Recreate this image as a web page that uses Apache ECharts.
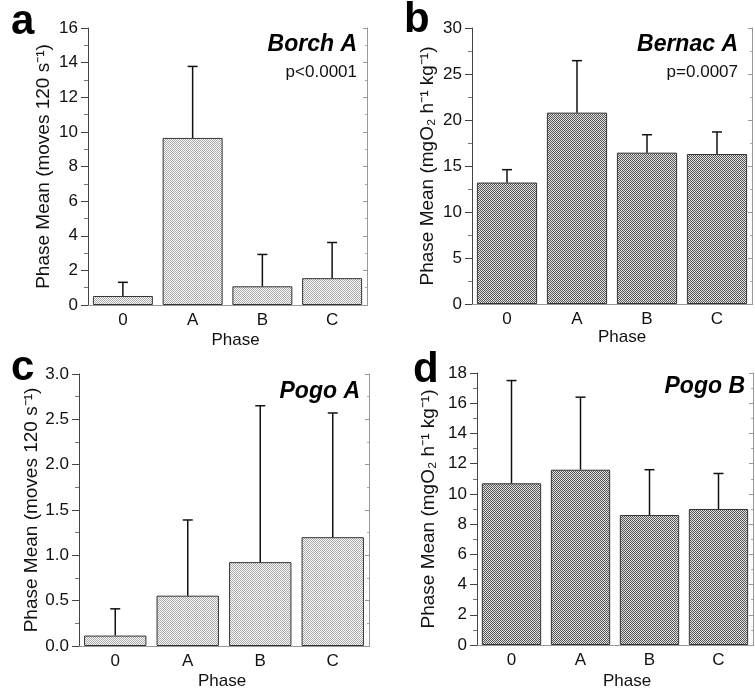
<!DOCTYPE html>
<html>
<head>
<meta charset="utf-8">
<script src="https://cdn.jsdelivr.net/npm/echarts@6/dist/echarts.min.js"></script>
<style>
html, body { margin: 0; padding: 0; background: #fff; }
#echart { width: 755px; height: 691px; }
</style>
</head>
<body>
<div id="echart"></div>
<script>
var dom = document.getElementById("echart");
var myChart = echarts.init(dom);

// categories
let phases = ['0', 'A', 'B', 'C'];

// a: Borch A (moves per 120 s)
let borchMean = [0.52, 9.65, 1.08, 1.55];
let borchErr = [1.31, 13.78, 2.92, 3.61];
// b: Bernac A (mgO2 per h per kg)
let bernacMean = [13.2, 20.8, 16.45, 16.3];
let bernacErr = [14.6, 26.45, 18.4, 18.7];
// c: Pogo A
let pogoAMean = [0.115, 0.555, 0.925, 1.2];
let pogoAErr = [0.41, 1.39, 2.65, 2.57];
// d: Pogo B
let pogoBMean = [10.7, 11.6, 8.6, 9.0];
let pogoBErr = [17.5, 16.4, 11.6, 11.35];

let movesLabel = 'Phase Mean (moves 120 s\u207B\u00B9)';
let o2Label = 'Phase Mean (mgO\u2082 h\u207B\u00B9 kg\u207B\u00B9)';

// stipple fill for the bars
function dots(bg, fg) {
    var c = document.createElement('canvas');
    c.width = 2; c.height = 2;
    var ctx = c.getContext('2d');
    ctx.fillStyle = bg; ctx.fillRect(0, 0, 2, 2);
    ctx.fillStyle = fg;
    ctx.fillRect(0, 0, 1, 1);
    ctx.fillRect(1, 1, 1, 1);
    return { image: c, repeat: 'repeat' };
}
var lightFill = dots('#fafafa', '#aaaaaa');
var darkFill = dots('#e0e0e0', '#585858');

var panels = [
    { letter: 'a', title: 'Borch A', p: 'p<0.0001', mean: borchMean, err: borchErr, max: 16, interval: 2, digits: 0,
      unit: movesLabel, fill: lightFill, grid: { left: 88, top: 28, width: 279, height: 277 },
      nameGap: 35, xNameGap: 27, xNameShift: 16, letterXY: [11, 22], titleX: 357, titleY: 45, pY: 72 },
    { letter: 'b', title: 'Bernac A', p: 'p=0.0007', mean: bernacMean, err: bernacErr, max: 30, interval: 5, digits: 0,
      unit: o2Label, fill: darkFill, grid: { left: 472, top: 28, width: 280, height: 276 },
      nameGap: 35, xNameGap: 25, xNameShift: 20, letterXY: [404, 20], titleX: 738, titleY: 45, pY: 72 },
    { letter: 'c', title: 'Pogo A', p: '', mean: pogoAMean, err: pogoAErr, max: 3, interval: 0.5, digits: 1,
      unit: movesLabel, fill: lightFill, grid: { left: 79, top: 374, width: 290, height: 279 },
      nameGap: 37, xNameGap: 27, xNameShift: -4, letterXY: [11, 368], titleX: 360, titleY: 392 },
    { letter: 'd', title: 'Pogo B', p: '', mean: pogoBMean, err: pogoBErr, max: 18, interval: 2, digits: 0,
      unit: o2Label, fill: darkFill, grid: { left: 477, top: 373, width: 276, height: 276 },
      nameGap: 39, xNameGap: 28, xNameShift: 24, letterXY: [413, 370], titleX: 745, titleY: 387 }
];

var grids = [], xAxes = [], yAxes = [], series = [], graphics = [];

panels.forEach(function (pn, i) {
    grids.push(pn.grid);
    xAxes.push({
        gridIndex: i, type: 'category', data: phases, position: 'bottom',
        boundaryGap: true,
        name: 'Phase', nameLocation: 'middle', nameGap: pn.xNameGap,
        nameTextStyle: { fontFamily: 'Liberation Sans', fontSize: 17, color: '#111', padding: [0, 0, 0, pn.xNameShift] },
        axisLine: { lineStyle: { color: '#222', width: 1 } },
        axisTick: { alignWithLabel: true, length: 3, lineStyle: { color: '#333' } },
        axisLabel: { fontFamily: 'Liberation Sans', fontSize: 17, color: '#111', margin: 7 },
        splitLine: { show: false }
    });
    xAxes.push({
        gridIndex: i, type: 'category', data: phases, position: 'top',
        boundaryGap: true,
        axisLine: { lineStyle: { color: '#999', width: 1 } },
        axisTick: { alignWithLabel: true, inside: true, length: 3, lineStyle: { color: '#999' } },
        axisLabel: { show: false },
        splitLine: { show: false }
    });
    yAxes.push({
        gridIndex: i, type: 'value', position: 'left', min: 0, max: pn.max, interval: pn.interval,
        name: pn.unit, nameLocation: 'middle', nameRotate: 90, nameGap: pn.nameGap,
        nameTextStyle: { fontFamily: 'Liberation Sans', fontSize: 19, color: '#111' },
        axisLine: { show: true, lineStyle: { color: '#444', width: 1 } },
        axisTick: { show: true, length: 7, lineStyle: { color: '#444' } },
        minorTick: { show: true, splitNumber: 2, length: 4, lineStyle: { color: '#777' } },
        axisLabel: {
            fontFamily: 'Liberation Sans', fontSize: 17, color: '#111', margin: 10,
            formatter: (function (d) { return function (v) { return v.toFixed(d); }; })(pn.digits)
        },
        splitLine: { show: false }
    });
    yAxes.push({
        gridIndex: i, type: 'value', position: 'right', min: 0, max: pn.max, interval: pn.interval,
        axisLine: { show: true, lineStyle: { color: '#999', width: 1 } },
        axisTick: { show: true, inside: true, length: 4, lineStyle: { color: '#999' } },
        minorTick: { show: true, splitNumber: 2, length: 2, lineStyle: { color: '#aaa' } },
        axisLabel: { show: false },
        splitLine: { show: false }
    });
    series.push({
        type: 'bar', xAxisIndex: 2 * i, yAxisIndex: 2 * i,
        data: pn.mean, barWidth: '86%',
        itemStyle: { color: pn.fill, borderColor: '#333', borderWidth: 1 },
        silent: true, z: 2
    });
    series.push({
        type: 'custom', xAxisIndex: 2 * i, yAxisIndex: 2 * i,
        data: pn.mean.map(function (m, k) { return [k, m, pn.err[k]]; }),
        renderItem: function (params, api) {
            var lo = api.coord([api.value(0), api.value(1)]);
            var hi = api.coord([api.value(0), api.value(2)]);
            var st = { stroke: '#111', lineWidth: 1.5 };
            return {
                type: 'group',
                children: [
                    { type: 'line', shape: { x1: lo[0], y1: lo[1], x2: hi[0], y2: hi[1] }, style: st },
                    { type: 'line', shape: { x1: hi[0] - 5, y1: hi[1], x2: hi[0] + 5, y2: hi[1] }, style: st }
                ]
            };
        },
        silent: true, z: 5
    });
    graphics.push({
        type: 'text', style: {
            x: pn.letterXY[0], y: pn.letterXY[1], text: pn.letter,
            font: 'bold 42px "Liberation Sans"', fill: '#000',
            textAlign: 'left', textVerticalAlign: 'middle'
        }
    });
    graphics.push({
        type: 'text', style: {
            x: pn.titleX, y: pn.titleY, text: pn.title,
            font: 'italic bold 23px "Liberation Sans"', fill: '#000',
            textAlign: 'right', textVerticalAlign: 'middle'
        }
    });
    if (pn.p) {
        graphics.push({
            type: 'text', style: {
                x: pn.titleX, y: pn.pY, text: pn.p,
                font: '17px "Liberation Sans"', fill: '#111',
                textAlign: 'right', textVerticalAlign: 'middle'
            }
        });
    }
});

var option = {
    animation: false,
    backgroundColor: '#fff',
    grid: grids,
    xAxis: xAxes,
    yAxis: yAxes,
    series: series,
    graphic: graphics
};

myChart.setOption(option);
</script>
</body>
</html>
